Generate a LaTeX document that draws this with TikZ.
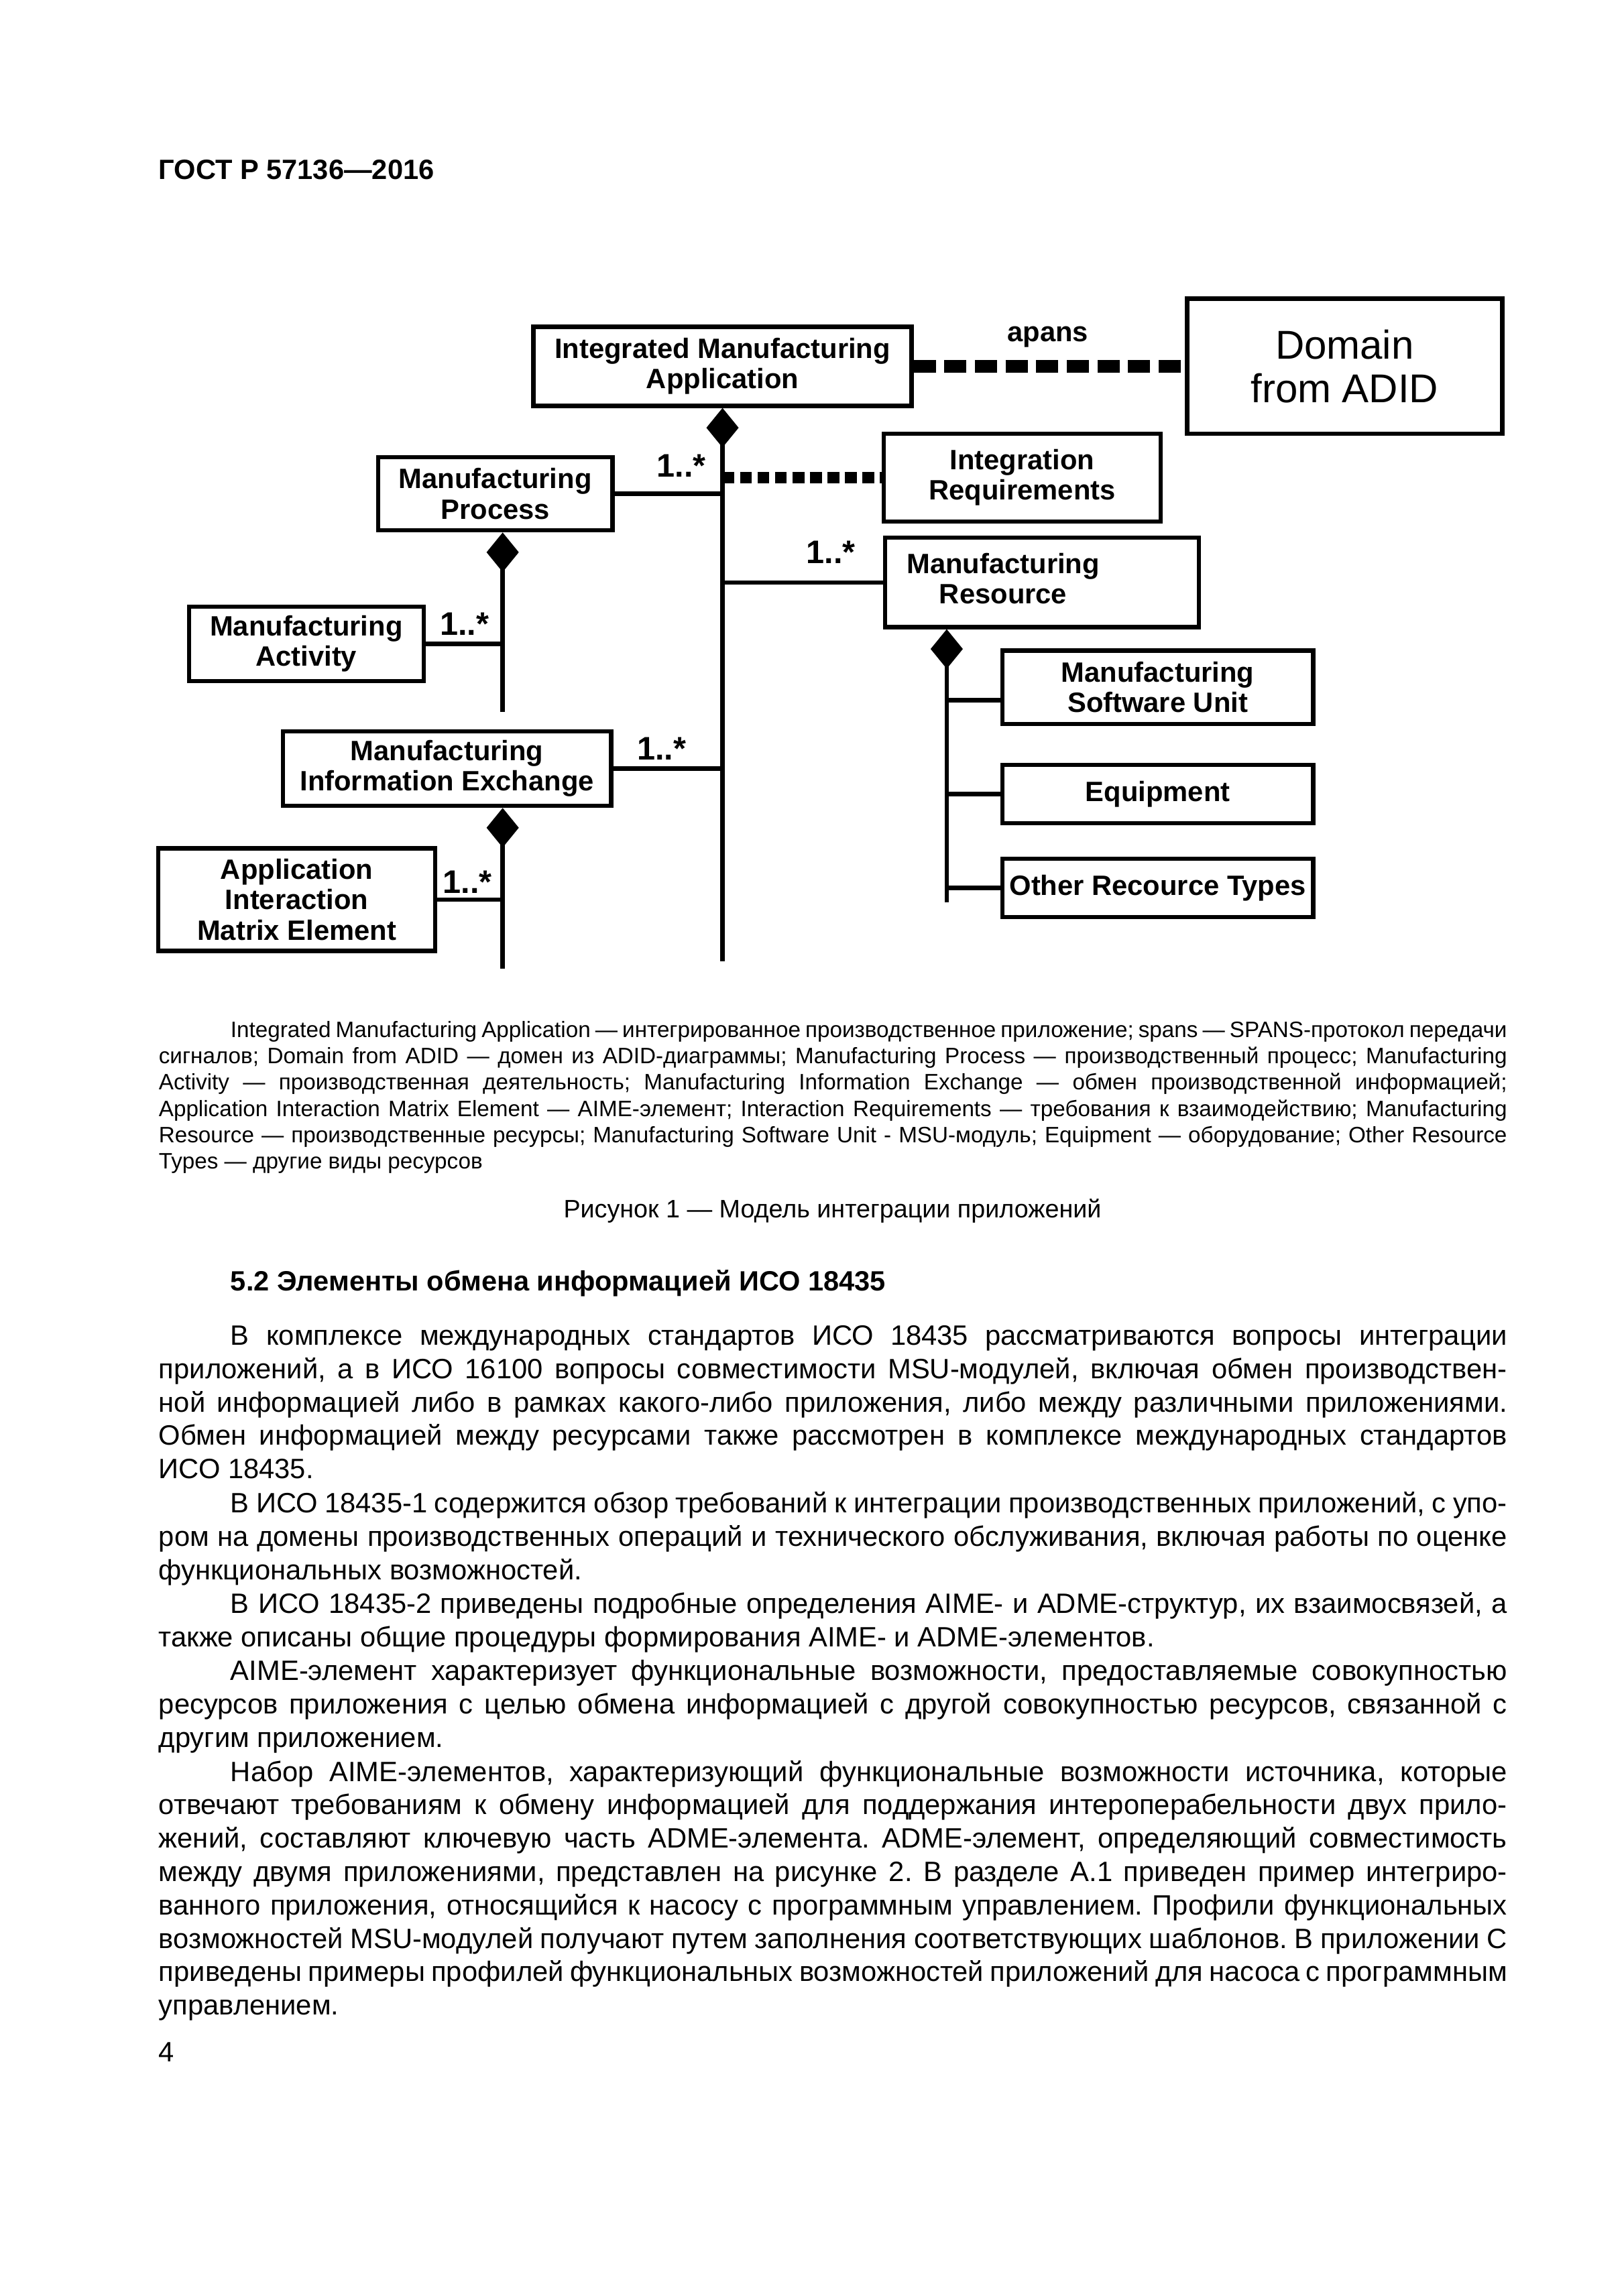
\documentclass[tikz,border=0pt]{standalone}
\usepackage{fontspec}
\setmainfont{Liberation Sans}
\usetikzlibrary{arrows.meta}
\frenchspacing
\begin{document}
\begin{tikzpicture}[x=0.18958mm, y=-0.18958mm,
  sz/.style 2 args={minimum width=#1*0.18958mm, minimum height=#2*0.18958mm},
  box/.style={draw, line width=1.55pt, inner sep=0pt, align=center, font=\lblfont},
  wire/.style={line width=1.6pt},
  comp/.style={wire, -{Diamond[length=5.12mm, width=4.17mm]}},
  spans/.style={line width=1.63mm, dash pattern=on 2.863mm off 1.10mm},
  needs/.style={line width=1.52mm, dash pattern=on 1.555mm off 0.701mm},
  mult/.style={inner sep=0pt, font=\multfont},
  txt/.style={inner sep=0pt, anchor=base west, text width=174.41mm, align=left}]
\def\lblfont{\fontsize{10.3}{11.14}\selectfont\bfseries}
\def\multfont{\fontsize{12}{14}\selectfont\bfseries}
\def\domfont{\fontsize{14.8}{16.1}\selectfont}
\def\headfont{\fontsize{10.27}{12}\selectfont\bfseries}
\def\notefont{\fontsize{8.2}{9.69}\selectfont}
\def\capfont{\fontsize{9.3}{11}\selectfont}
\def\bodyfont{\fontsize{10.3}{12.29}\selectfont}
\def\secfont{\fontsize{10.26}{12.29}\selectfont\bfseries}
\def\jl#1{\spaceskip=0pt\xspaceskip=0pt\frenchspacing\makebox[174.41mm][s]{#1}}
\def\jf#1{\spaceskip=0pt\xspaceskip=0pt\frenchspacing\hspace*{9.29mm}\makebox[165.12mm][s]{#1}}
\useasboundingbox (0,0) rectangle (1107.7,1567.05);

\node[anchor=base west, inner sep=0pt, font=\headfont] (head) at (108,122.5) {ГОСТ Р 57136—2016};

\node[box, sz={258}{54}] (ima) at (493,250) {Integrated Manufacturing\\Application};
\node[box, sz={215}{92}, line width=1.7pt, font=\domfont] (domain) at (917.5,250) {Domain\\from ADID};
\node[box, sz={189}{60}] (ir) at (697.5,326) {Integration\\Requirements};
\node[box, sz={160}{50}] (mp) at (338,337) {Manufacturing\\Process};
\node[box, sz={214}{61}] (mr) at (711,397.5) {\begin{tabular}{@{}c@{}}Manufacturing\\Resource\end{tabular}\hspace*{10.05mm}};
\node[box, sz={160}{51}] (ma) at (209,439.5) {Manufacturing\\Activity};
\node[box, sz={224}{51}] (mie) at (305,524.5) {Manufacturing\\Information Exchange};
\node[box, sz={189}{70}] (aime) at (202.5,614) {Application\\Interaction\\Matrix Element};
\node[box, sz={212}{50}] (msu) at (790,469) {Manufacturing\\Software Unit};
\node[box, sz={212}{40}] (equip) at (790,542) {Equipment};
\node[box, sz={212}{40}] (other) at (790,606) {Other Recource Types};

\draw[spans] (ima.east) -- (domain.west);
\node[inner sep=0pt, font=\lblfont] (apans) at (715,230) {apans};

\coordinate (trunk) at (493,656);
\draw[comp] (trunk) -- (ima.south);
\draw[wire] (mp.east) -- (mp.east -| trunk);
\draw[needs] (ir.west -| trunk) -- (ir.west);
\draw[wire] (mr.west) -- (mr.west -| trunk);
\draw[wire] (mie.east) -- (mie.east -| trunk);

\coordinate (mpend) at (343,486);
\draw[comp] (mpend) -- (mpend |- mp.south);
\draw[wire] (ma.east) -- (ma.east -| mpend);
\coordinate (mieend) at (343,661);
\draw[comp] (mieend) -- (mieend |- mie.south);
\draw[wire] (aime.east) -- (aime.east -| mieend);

\coordinate (mrend) at (646,616);
\draw[comp] (mrend) -- (mrend |- mr.south);
\coordinate (msuin) at ([yshift=-1.706mm]msu.west);
\draw[wire] (msuin) -- (msuin -| mrend);
\draw[wire] (equip.west) -- (equip.west -| mrend);
\draw[wire] (other.west) -- (other.west -| mrend);

\node[mult] (m1) at (465,318) {1..*};
\node[mult] (m2) at (567,377) {1..*};
\node[mult] (m3) at (317,426) {1..*};
\node[mult] (m4) at (451.5,511) {1..*};
\node[mult] (m5) at (319,602) {1..*};

\node[txt, font=\notefont] (note) at (108,708) {%
\jf{Integrated Manufacturing Application — интегрированное производственное приложение; spans — SPANS-протокол передачи}\\
\jl{сигналов; Domain from ADID — домен из ADID-диаграммы; Manufacturing Process — производственный процесс; Manufacturing}\\
\jl{Activity — производственная деятельность; Manufacturing Information Exchange — обмен производственной информацией;}\\
\jl{Application Interaction Matrix Element — AIME-элемент; Interaction Requirements — требования к взаимодействию; Manufacturing}\\
\jl{Resource — производственные ресурсы; Manufacturing Software Unit - MSU-модуль; Equipment — оборудование; Other Resource}\\
Types — другие виды ресурсов};

\node[anchor=base, inner sep=0pt, font=\capfont] (cap) at (568,831) {Рисунок 1 — Модель интеграции приложений};
\node[anchor=base west, inner sep=0pt, font=\secfont] (sec) at (157,881) {5.2 Элементы обмена информацией ИСО 18435};

\node[txt, font=\bodyfont] (par1) at (108,918) {%
\jf{В комплексе международных стандартов ИСО 18435 рассматриваются вопросы интеграции}\\
\jl{приложений, а в ИСО 16100 вопросы совместимости MSU-модулей, включая обмен производствен-}\\
\jl{ной информацией либо в рамках какого-либо приложения, либо между различными приложениями.}\\
\jl{Обмен информацией между ресурсами также рассмотрен в комплексе международных стандартов}\\
ИСО 18435.};
\node[txt, font=\bodyfont] (par2) at (108,1032.5) {%
\jf{В ИСО 18435-1 содержится обзор требований к интеграции производственных приложений, с упо-}\\
\jl{ром на домены производственных операций и технического обслуживания, включая работы по оценке}\\
функциональных возможностей.};
\node[txt, font=\bodyfont] (par3) at (108,1101.2) {%
\jf{В ИСО 18435-2 приведены подробные определения AIME- и ADME-структур, их взаимосвязей, а}\\
также описаны общие процедуры формирования AIME- и ADME-элементов.};
\node[txt, font=\bodyfont] (par4) at (108,1147) {%
\jf{AIME-элемент характеризует функциональные возможности, предоставляемые совокупностью}\\
\jl{ресурсов приложения с целью обмена информацией с другой совокупностью ресурсов, связанной с}\\
другим приложением.};
\node[txt, font=\bodyfont] (par5) at (108,1215.7) {%
\jf{Набор AIME-элементов, характеризующий функциональные возможности источника, которые}\\
\jl{отвечают требованиям к обмену информацией для поддержания интероперабельности двух прило-}\\
\jl{жений, составляют ключевую часть ADME-элемента. ADME-элемент, определяющий совместимость}\\
\jl{между двумя приложениями, представлен на рисунке 2. В разделе А.1 приведен пример интегриро-}\\
\jl{ванного приложения, относящийся к насосу с программным управлением. Профили функциональных}\\
\jl{возможностей MSU-модулей получают путем заполнения соответствующих шаблонов. В приложении С}\\
\jl{приведены примеры профилей функциональных возможностей приложений для насоса с программным}\\
управлением.};

\node[anchor=base west, inner sep=0pt, font=\bodyfont] (pg) at (108,1407) {4};
\end{tikzpicture}
\end{document}
